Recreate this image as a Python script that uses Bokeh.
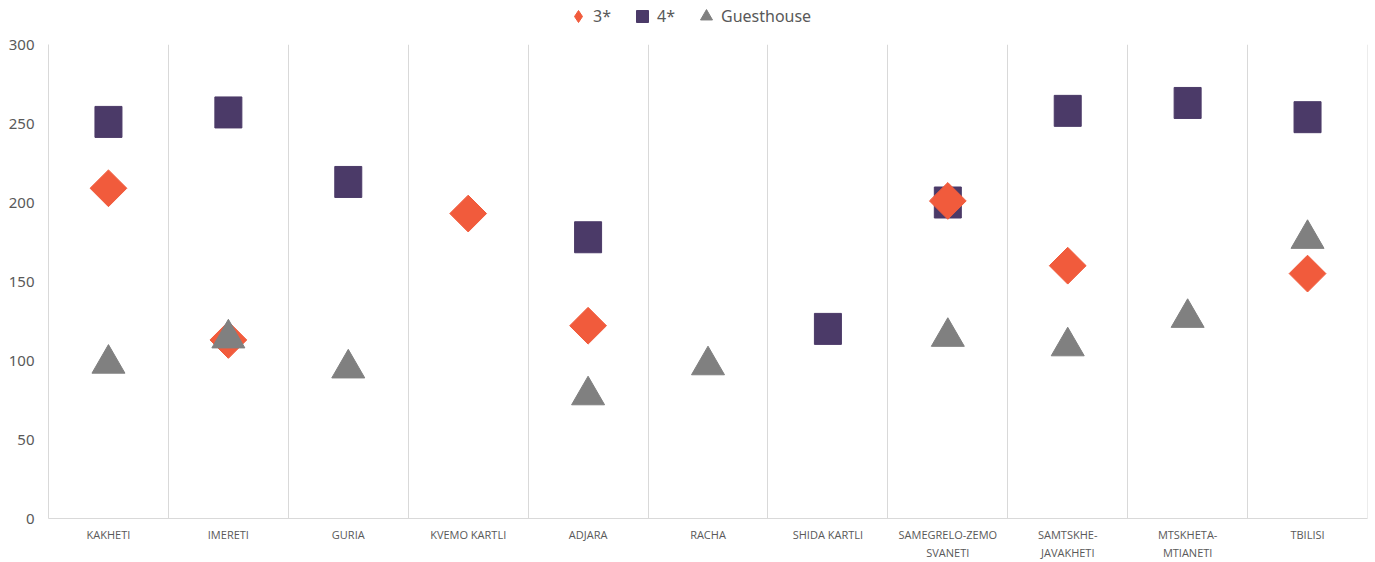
import math
from bokeh.plotting import figure
from bokeh.layouts import column
from bokeh.models import FactorRange, Range1d, ColumnDataSource, Legend, LegendItem, FixedTicker
from bokeh.transform import dodge
from bokeh.embed import file_html
from bokeh.resources import INLINE

categories = ["KAKHETI", "IMERETI", "GURIA", "KVEMO KARTLI", "ADJARA", "RACHA",
              "SHIDA KARTLI", "SAMEGRELO-ZEMO\nSVANETI", "SAMTSKHE-\nJAVAKHETI",
              "MTSKHETA-\nMTIANETI", "TBILISI"]
three_star = [209, 113, None, 193, 122, None, None, 201, 160, None, 155]
four_star = [251, 257, 213, None, 178, None, 120, 200, 258, 263, 254]
guesthouse = [101, 117, 98, None, 81, 100, None, 118, 112, 130, 180]
y_ticks = [0, 50, 100, 150, 200, 250, 300]
series_names = ["3*", "4*", "Guesthouse"]

C3 = "#F15B3C"
C4 = "#4B3A68"
CG = "#808080"


def make_source(vals):
    xs = [c for c, v in zip(categories, vals) if v is not None]
    ys = [v for v in vals if v is not None]
    return ColumnDataSource(dict(x=xs, y=ys))


src3 = make_source(three_star)
src4 = make_source(four_star)
srcg = make_source(guesthouse)

# ---- main chart ----
p = figure(x_range=FactorRange(*categories), y_range=Range1d(0, 300),
           width=1375, height=530, output_backend="svg", toolbar_location=None,
           min_border_left=48, min_border_right=8, min_border_top=12, min_border_bottom=39)
p.x_range.range_padding = 0
p.outline_line_color = None
p.background_fill_color = "white"
p.xgrid.visible = False
p.ygrid.visible = False

# category boundary lines
bsrc = ColumnDataSource(dict(x=categories))
p.vspan(x=dodge("x", 0.5, range=p.x_range), source=bsrc, line_color="#D9D9D9", line_width=1)

p.rect(x="x", y="y", width=27, height=31, width_units="screen", height_units="screen",
       source=src4, fill_color=C4, line_color=C4)
p.scatter(x="x", y="y", source=src3, marker="square", angle=math.pi / 4,
          size=26, fill_color=C3, line_color=C3)
p.scatter(x="x", y=dodge("y", -3, range=p.y_range), source=srcg,
          marker="triangle", size=33, fill_color=CG, line_color=CG)

for ax in (p.xaxis[0], p.yaxis[0]):
    ax.axis_line_color = "#D9D9D9"
    ax.axis_line_width = 1
    ax.major_tick_line_color = None
    ax.minor_tick_line_color = None
    ax.major_tick_out = 0
    ax.major_tick_in = 0

p.yaxis.ticker = FixedTicker(ticks=y_ticks)
p.yaxis.major_label_text_font = "Noto Sans"
p.yaxis.major_label_text_font_size = "15px"
p.yaxis.major_label_text_color = "#595959"
p.yaxis.major_label_standoff = 14

p.xaxis.major_label_text_font = "Open Sans"
p.xaxis.major_label_text_font_size = "11px"
p.xaxis.major_label_text_color = "#595959"
p.xaxis.major_label_standoff = 8

# ---- legend strip (same series, outside its view range; only the legend shows) ----
lg = figure(width=1375, height=32, output_backend="svg", toolbar_location=None,
            x_range=FactorRange(*categories), y_range=Range1d(1000, 1001),
            x_axis_location=None, y_axis_location=None,
            min_border_left=0, min_border_right=0, min_border_top=0, min_border_bottom=0)
lg.outline_line_color = None
lg.xgrid.visible = False
lg.ygrid.visible = False
l3 = lg.scatter(x="x", y="y", source=src3, marker="diamond", fill_color=C3, line_color=C3)
l4 = lg.scatter(x="x", y="y", source=src4, marker="square", fill_color=C4, line_color=C4)
lgg = lg.scatter(x="x", y="y", source=srcg, marker="triangle", fill_color=CG, line_color=CG)
legend = Legend(items=[LegendItem(label=series_names[0], renderers=[l3], index=0),
                       LegendItem(label=series_names[1], renderers=[l4], index=0),
                       LegendItem(label=series_names[2], renderers=[lgg], index=0)],
                orientation="horizontal", location=(515, 1),
                border_line_color=None, background_fill_alpha=0,
                label_text_font="Noto Sans", label_text_font_size="16px",
                label_text_color="#595959", glyph_width=30, glyph_height=30,
                label_standoff=0, spacing=14, padding=0, margin=0)
lg.add_layout(legend, "center")

layout = column(lg, p, spacing=0)
open("out.html", "w").write(file_html(layout, INLINE))
